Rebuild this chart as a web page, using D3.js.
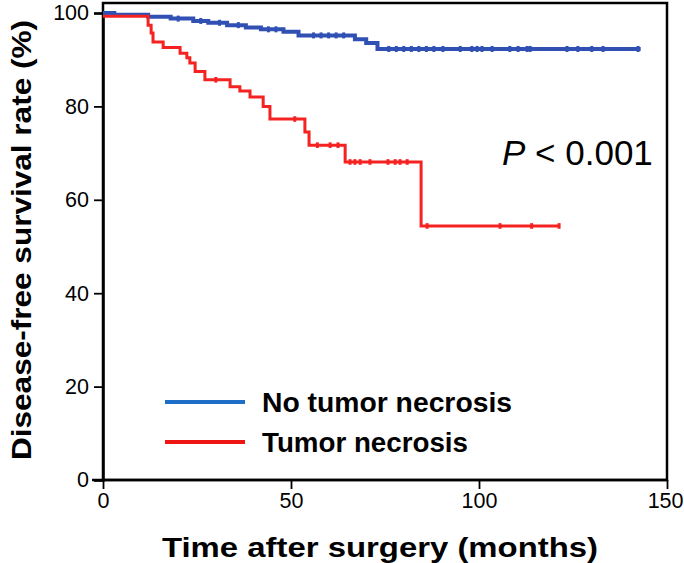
<!DOCTYPE html>
<html><head><meta charset="utf-8">
<script src="https://cdn.jsdelivr.net/npm/d3@7"></script>
<style>body{margin:0;background:#fff}svg{display:block}text{font-family:"Liberation Sans",Arial,sans-serif}</style>
</head><body><svg id="c" width="684" height="563"></svg>
<script>
const xTicks = [0, 50, 100, 150];
const yTicks = [0, 20, 40, 60, 80, 100];
const seriesNames = ["No tumor necrosis", "Tumor necrosis"];
const blueTimes = [0, 3, 12, 18, 24, 28, 33, 38, 42, 48, 52, 67, 70, 73, 143];
const blueSurv  = [100, 99.6, 99.2, 98.8, 98.3, 97.9, 97.4, 96.9, 96.5, 96.0, 95.2, 94.4, 93.6, 92.3, 92.3];
const blueCensor = [20, 26, 31, 36, 44, 46, 56, 58, 60, 62, 64, 76, 78, 80, 82, 84, 86, 88, 90.4, 95, 98.1, 99.5, 100.8, 103.5, 108.2, 110.4, 112.8, 113.6, 123.4, 126.3, 130, 133, 142.3];
const redTimes = [0, 12, 12.8, 13.3, 16, 20.5, 22.3, 23.1, 24.5, 27.1, 33.8, 36.4, 39.1, 42.6, 44.4, 53.7, 54.8, 64.4, 84.6, 121.3];
const redSurv  = [99.3, 97.4, 95.7, 93.8, 92.6, 91.4, 90.4, 89.3, 87.5, 85.7, 84.2, 83.3, 82.0, 80.0, 77.3, 74.5, 71.7, 68.1, 54.4, 54.4];
const redCensor = [30, 51, 57, 60.4, 62.5, 65.7, 67, 68.4, 71, 75.8, 77.7, 79, 80.9, 86.2, 105.6, 114, 121.3];

const svg = d3.select("#c");
const x = d3.scaleLinear().domain([0, 150]).range([103, 667]);
const y = d3.scaleLinear().domain([0, 100]).range([480, 13]);

function surv(times, vals, t){ let v = vals[0]; for (let i=0;i<times.length;i++){ if (times[i] <= t) v = vals[i]; } return v; }

// frame
svg.append("rect").attr("x", x(0)).attr("y", 3).attr("width", x(150)-x(0)).attr("height", y(0)-3)
  .attr("fill", "none").attr("stroke", "#000").attr("stroke-width", 2.5);

// axes
const yAxis = svg.append("g").attr("transform", `translate(${x(0)},0)`)
  .call(d3.axisLeft(y).tickValues(yTicks).tickSize(9).tickPadding(5));
const xAxis = svg.append("g").attr("transform", `translate(0,${y(0)})`)
  .call(d3.axisBottom(x).tickValues(xTicks).tickSize(9).tickPadding(4));
[yAxis, xAxis].forEach(g => {
  g.select(".domain").attr("stroke-width", 2.5);
  g.selectAll(".tick line").attr("stroke-width", 1.8);
  g.selectAll("text").attr("font-size", 21.5).attr("fill", "#000").attr("font-family", "Liberation Sans, Arial, sans-serif");
});
xAxis.select(".domain").attr("d", `M${x(0)-11},0H${x(150)}`);
xAxis.selectAll(".tick text").filter(d => d === 150).attr("text-anchor", "end").attr("dx", 16);

const line = d3.line().x(d => x(d[0])).y(d => y(d[1])).curve(d3.curveStepAfter);

function drawCurve(times, vals, censor, color, w, r){
  const pts = times.map((t,i)=>[t, vals[i]]);
  svg.append("path").attr("d", line(pts)).attr("fill", "none").attr("stroke", color).attr("stroke-width", w);
  svg.append("g").selectAll("rect").data(censor).join("rect")
    .attr("x", d => x(d) - 1.5).attr("y", d => y(surv(times, vals, d)) - r)
    .attr("width", 3).attr("height", 2*r).attr("fill", color);
}
drawCurve(blueTimes, blueSurv, blueCensor, "#3050b4", 4, 3);
drawCurve(redTimes, redSurv, redCensor, "#f52222", 3, 2.8);

// P value
const pt = svg.append("text").attr("x", 502).attr("y", 165).attr("font-size", 35).attr("fill", "#000");
pt.append("tspan").attr("font-style", "italic").text("P");
pt.append("tspan").text(" < 0.001");

// legend
const legColors = ["#1f6fc8", "#ee1515"];
const legLens = [250, 206];
seriesNames.forEach((n, i) => {
  const yy = 402 + i*40;
  svg.append("line").attr("x1", 165).attr("x2", 245).attr("y1", yy).attr("y2", yy)
    .attr("stroke", legColors[i]).attr("stroke-width", 4);
  svg.append("text").attr("x", 262).attr("y", yy + 10).attr("font-size", 27).attr("font-weight", "bold")
    .attr("textLength", legLens[i]).attr("lengthAdjust", "spacingAndGlyphs")
    .attr("fill", "#000").text(n);
});

// axis titles
svg.append("text").attr("x", 162).attr("y", 557)
  .attr("font-size", 28).attr("font-weight", "bold")
  .attr("textLength", 436).attr("lengthAdjust", "spacingAndGlyphs").text("Time after surgery (months)");
svg.append("text").attr("transform", "translate(31,460) rotate(-90)")
  .attr("font-size", 28).attr("font-weight", "bold")
  .attr("textLength", 440).attr("lengthAdjust", "spacingAndGlyphs").text("Disease-free survival rate (%)");
</script></body></html>
